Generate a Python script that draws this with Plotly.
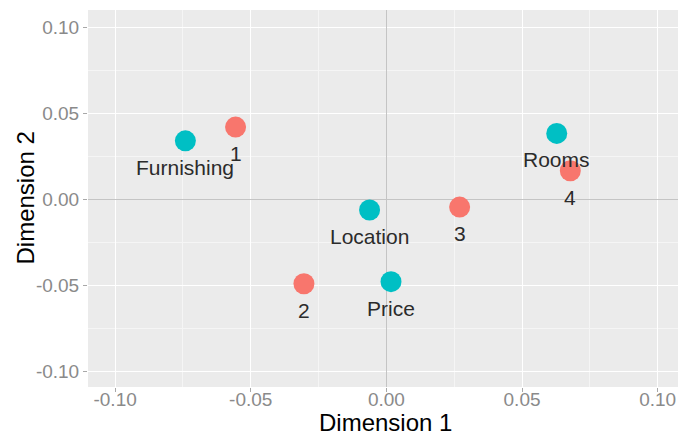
import plotly.graph_objects as go

# Correspondence-analysis style map: row points (numbered) and column points (attributes)
row_labels = ["1", "2", "3", "4"]
row_dim1 = [-0.0556, -0.0304, 0.0270, 0.0678]
row_dim2 = [0.0420, -0.0490, -0.0045, 0.0166]

col_labels = ["Furnishing", "Location", "Price", "Rooms"]
col_dim1 = [-0.0741, -0.0062, 0.0017, 0.0628]
col_dim2 = [0.0340, -0.0062, -0.0478, 0.0383]

tick_vals = [-0.10, -0.05, 0.00, 0.05, 0.10]
tick_text = ["-0.10", "-0.05", "0.00", "0.05", "0.10"]

x_title = "Dimension 1"
y_title = "Dimension 2"

RED = "#F8766D"
CYAN = "#00BFC4"
FONT = "Liberation Sans, Arial"

fig = go.Figure()
fig.add_trace(go.Scatter(x=row_dim1, y=row_dim2, mode="markers",
                         marker=dict(size=21, color=RED, line=dict(width=0)),
                         showlegend=False, hoverinfo="skip"))
fig.add_trace(go.Scatter(x=col_dim1, y=col_dim2, mode="markers",
                         marker=dict(size=21, color=CYAN, line=dict(width=0)),
                         showlegend=False, hoverinfo="skip"))

# Point labels sit just below each marker
for lab, x, y in list(zip(row_labels, row_dim1, row_dim2)) + list(zip(col_labels, col_dim1, col_dim2)):
    fig.add_annotation(x=x, y=y, text=lab, showarrow=False, yshift=-26.5,
                       xanchor="center", yanchor="middle",
                       font=dict(family=FONT, size=21, color="#2b2b2b"))

# Axis titles placed relative to the plotting panel
fig.add_annotation(xref="paper", yref="paper", x=0.5, y=0, xshift=2, yshift=-35,
                   xanchor="center", yanchor="middle", showarrow=False, text=x_title,
                   font=dict(family=FONT, size=24, color="#000000"))
fig.add_annotation(xref="paper", yref="paper", x=0, y=0.5, xshift=-63,
                   xanchor="center", yanchor="middle", showarrow=False, text=y_title,
                   textangle=-90, font=dict(family=FONT, size=24, color="#000000"))

axis_common = dict(
    tickvals=tick_vals, ticktext=tick_text,
    showgrid=True, gridcolor="#FFFFFF", gridwidth=1.3,
    minor=dict(showgrid=True, gridcolor="#F5F5F5", gridwidth=0.7, dtick=0.025),
    zeroline=True, zerolinecolor="#C4C4C4", zerolinewidth=1,
    ticks="outside", ticklen=4, tickcolor="#A8A8A8", tickwidth=1,
    tickfont=dict(family=FONT, size=19, color="#8A8A8A"),
    showline=False,
)

fig.update_layout(
    width=678, height=436,
    margin=dict(l=88, r=0, t=10, b=49, autoexpand=False),
    paper_bgcolor="#FFFFFF", plot_bgcolor="#EBEBEB",
    xaxis=dict(range=[-0.110, 0.1075], ticklabelstandoff=-9, **axis_common),
    yaxis=dict(range=[-0.109, 0.110], **axis_common),
)

fig.write_html("out.html")
